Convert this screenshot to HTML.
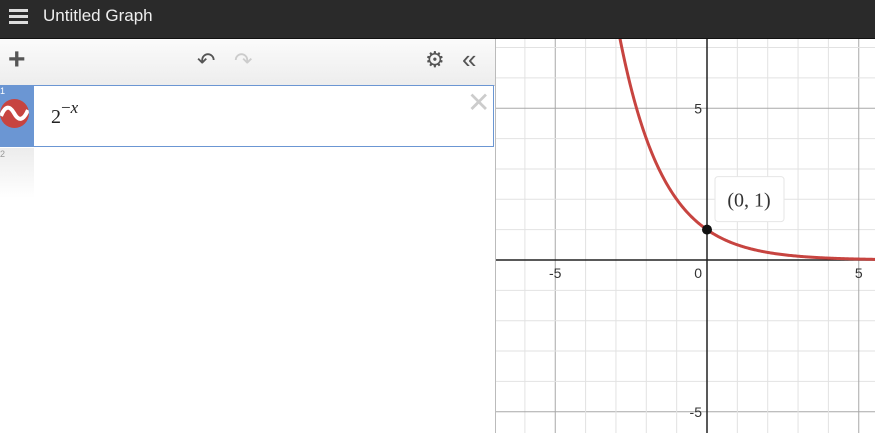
<!DOCTYPE html>
<html><head><meta charset="utf-8"><style>
body{margin:0;width:875px;height:433px;overflow:hidden;font-family:"Liberation Sans",sans-serif;background:#fff;position:relative}
.abs{position:absolute}
</style></head><body>
<div class="abs" style="left:0;top:0;width:875px;height:38px;background:#2a2a2a;border-bottom:1px solid #111">
  <div class="abs" style="left:9px;top:8px;width:19px;height:20px">
    <div class="abs" style="left:0;top:1px;width:19px;height:3px;background:#ddd"></div>
    <div class="abs" style="left:0;top:7px;width:19px;height:3px;background:#ddd"></div>
    <div class="abs" style="left:0;top:13px;width:19px;height:3px;background:#ddd"></div>
  </div>
  <div class="abs" style="left:43px;top:6px;font-size:17px;color:#eee">Untitled Graph</div>
</div>
<div class="abs" style="left:0;top:39px;width:495px;height:394px;background:#fff;border-right:1px solid #bbb">
  <div class="abs" style="left:0;top:0;width:495px;height:46px;background:linear-gradient(#fbfbfb,#ededed);border-bottom:1px solid #ccc">
    <div class="abs" style="left:8px;top:4px;font-size:30px;font-weight:bold;color:#555">+</div>
    <div class="abs" style="left:197px;top:9px;font-size:22px;color:#555">&#x21B6;</div>
    <div class="abs" style="left:234px;top:9px;font-size:22px;color:#ccc">&#x21B7;</div>
    <div class="abs" style="left:425px;top:8px;font-size:22px;color:#555">&#x2699;</div>
    <div class="abs" style="left:462px;top:5px;font-size:26px;color:#555">&#xAB;</div>
  </div>
  <div class="abs" style="left:0;top:46px;width:494px;height:62px">
    <div class="abs" style="left:0;top:0;width:34px;height:62px;background:#6b96d3"></div>
    <div class="abs" style="left:0;top:1px;font-size:9px;color:#fff">1</div>
    <div class="abs" style="left:0;top:14px;width:29px;height:29px;border-radius:50%;background:#c74440;overflow:hidden">
      <svg width="29" height="29"><path d="M1 17 Q7 2 14 14 Q21 27 28 11" stroke="#fff" stroke-width="4" fill="none"/></svg>
    </div>
    <div class="abs" style="left:34px;top:0;width:459px;height:60px;border:1px solid #6b96d3;border-left:none;background:#fff">
      <div class="abs" style="left:17px;top:20px;font-family:'Liberation Serif',serif;font-size:20px;color:#222">2<span style="font-size:17px;position:relative;top:-10px">−<i>x</i></span></div>
      <div class="abs" style="left:433px;top:0px;font-size:28px;color:#ccc">&#x2715;</div>
    </div>
  </div>
  <div class="abs" style="left:0;top:109px;width:34px;height:50px;background:linear-gradient(#ececec,#fff)">
    <div class="abs" style="left:0;top:1px;font-size:9px;color:#999">2</div>
  </div>
</div>
<svg class="abs" style="left:496px;top:39px" width="379" height="394" id="g"></svg>
<script>
const minorStep=[1];
const majorStep=[5];
const xTicks=[-5,0,5];
const yTicks=[5,-5];
const base=[2];
const pointX=[0];
const pointY=[1];
const ox=707-496, oy=260-39, sc=30.35;
const X=v=>ox+v*sc, Y=v=>oy-v*sc;
const g=document.getElementById('g');
const NS='http://www.w3.org/2000/svg';
function mk(t,a){const e=document.createElementNS(NS,t);for(const k in a)e.setAttribute(k,a[k]);g.appendChild(e);return e;}
for(let i=-8;i<=8;i++){
  const maj=i%majorStep[0]===0;
  const col=maj?'#a8a8a8':'#e2e2e2';
  const l1=mk('line',{x1:X(i*minorStep[0]),x2:X(i*minorStep[0]),y1:0,y2:394,stroke:col,'stroke-width':1});
  
  
  const l2=mk('line',{y1:Y(i*minorStep[0]),y2:Y(i*minorStep[0]),x1:0,x2:379,stroke:col,'stroke-width':1});
  
  
}
const xa=mk('line',{x1:0,x2:379,y1:Y(0),y2:Y(0),stroke:'#222','stroke-width':1.5});


const ya=mk('line',{x1:X(0),x2:X(0),y1:0,y2:394,stroke:'#222','stroke-width':1.5});


xTicks.forEach(v=>{
  const t=mk('text',{x:v===0?X(0)-5:X(v),y:Y(0)+18,'text-anchor':v===0?'end':'middle','font-size':14,fill:'#333','font-family':'Liberation Sans, sans-serif'});
  t.textContent=v;
  
  
});
yTicks.forEach(v=>{
  const t=mk('text',{x:X(0)-5,y:Y(v)+5,'text-anchor':'end','font-size':14,fill:'#333','font-family':'Liberation Sans, sans-serif'});
  t.textContent=v;
  
  
});
let d='';
for(let px=0;px<=379;px+=1){
  const x=(px-ox)/sc;const y=Math.pow(base[0],-x);
  const py=Y(y); if(py<-50)continue;
  d+=(d?'L':'M')+px+' '+py.toFixed(2);
}
const c=mk('path',{d:d,stroke:'#c74440','stroke-width':3,fill:'none'});


const p=mk('circle',{cx:X(pointX[0]),cy:Y(pointY[0]),r:5,fill:'#111'});


const bx=mk('rect',{x:X(pointX[0])+8,y:Y(pointY[0])-53,width:69,height:45,rx:3,fill:'#fff',stroke:'#e6e6e6'});


const lt=mk('text',{x:X(pointX[0])+42,y:Y(pointY[0])-23,'text-anchor':'middle','font-size':20,fill:'#333','font-family':'Liberation Serif, serif'});
lt.textContent='('+pointX[0]+', '+pointY[0]+')';


</script>
</body></html>
